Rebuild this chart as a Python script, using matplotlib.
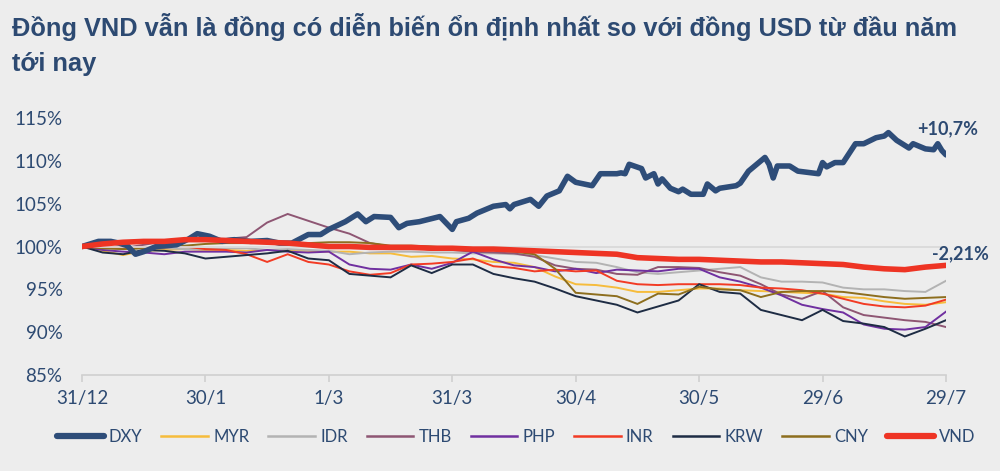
import matplotlib
matplotlib.use('Agg')
import matplotlib.pyplot as plt
from matplotlib.lines import Line2D

# ---------------- data ----------------
days = list(range(0, 211, 5))
tick_days = [0, 30, 60, 90, 120, 150, 180, 210]
tick_labels = ['31/12', '30/1', '1/3', '31/3', '30/4', '30/5', '29/6', '29/7']
y_ticks = [85, 90, 95, 100, 105, 110, 115]

dxy_days = [0, 4, 7, 9, 11, 13, 15, 18, 23, 26, 28, 31, 34, 37, 41, 45, 48, 51, 55, 58,
            60, 64, 67, 69, 71, 75, 77, 79, 82, 87, 90, 91, 94, 96, 100, 103, 104, 105,
            109, 111, 113, 116, 118, 120, 121, 124, 126, 130, 131, 132, 133, 136, 137,
            139, 140, 141, 143, 145, 146, 148, 151, 152, 154, 155, 159, 160, 162, 164,
            166, 167, 168, 169, 172, 174, 179, 180, 181, 183, 185, 188, 190, 193, 195,
            196, 198, 201, 202, 205, 207, 208, 209, 210]
dxy = [100.0, 100.6, 100.6, 100.4, 100.1, 99.1, 99.4, 100.0, 100.2, 100.9, 101.5, 101.2,
       100.6, 100.8, 100.6, 100.7, 100.4, 100.4, 101.4, 101.4, 102.0, 102.9, 103.8, 102.9,
       103.5, 103.4, 102.2, 102.7, 102.9, 103.5, 102.0, 102.9, 103.3, 103.9, 104.7, 104.9,
       104.4, 104.9, 105.5, 104.7, 105.9, 106.5, 108.2, 107.5, 107.4, 107.1, 108.5, 108.5,
       108.6, 108.5, 109.6, 109.1, 108.0, 108.5, 107.3, 107.9, 106.8, 106.4, 106.7, 106.1,
       106.1, 107.3, 106.5, 106.8, 107.1, 107.4, 108.8, 109.6, 110.4, 109.6, 108.0, 109.4,
       109.4, 108.8, 108.5, 109.8, 109.3, 109.8, 109.8, 112.0, 112.0, 112.7, 112.9, 113.3,
       112.4, 111.5, 112.0, 111.4, 111.3, 112.0, 111.2, 110.7]

myr = [100.0, 99.5, 99.0, 99.5, 99.6, 99.7, 99.6, 99.6, 99.5, 99.6, 99.6, 99.5, 99.4,
       99.4, 99.2, 99.2, 98.8, 98.9, 98.6, 98.5, 98.2, 98.1, 97.6, 96.5, 95.6, 95.5, 95.2,
       94.7, 94.7, 94.9, 95.1, 95.1, 94.9, 94.8, 94.7, 94.6, 94.5, 94.1, 94.0, 93.6, 93.3,
       93.2, 93.5]
idr = [100.0, 99.9, 99.7, 99.8, 99.8, 99.7, 99.7, 99.8, 99.8, 99.6, 99.7, 99.6, 99.5,
       99.1, 99.3, 99.4, 99.4, 99.3, 99.3, 99.2, 99.2, 99.1, 99.0, 98.6, 98.2, 98.1, 97.6,
       97.0, 96.8, 97.0, 97.2, 97.4, 97.6, 96.4, 95.9, 95.9, 95.8, 95.2, 95.0, 95.0, 94.8,
       94.7, 96.0]
thb = [100.0, 99.8, 99.8, 100.2, 100.6, 100.8, 100.9, 100.9, 101.1, 102.8, 103.8, 103.0,
       102.2, 101.5, 100.4, 100.0, 99.9, 99.6, 99.6, 99.4, 99.3, 99.2, 98.8, 97.8, 97.4,
       97.3, 96.8, 96.7, 97.6, 97.6, 97.5, 97.0, 96.6, 95.6, 94.4, 93.9, 94.8, 92.9, 92.0,
       91.7, 91.4, 91.2, 90.6]
php = [100.0, 99.6, 99.4, 99.3, 99.1, 99.4, 99.4, 99.4, 99.3, 99.6, 99.4, 99.3, 99.4,
       97.9, 97.4, 97.3, 97.9, 97.4, 98.1, 99.4, 98.5, 97.8, 97.6, 97.1, 97.4, 96.9, 97.3,
       97.2, 97.1, 97.4, 97.4, 96.4, 95.9, 95.2, 94.3, 93.2, 92.7, 92.3, 90.9, 90.4, 90.3,
       90.6, 92.4]
inr = [100.0, 100.0, 99.9, 99.9, 99.9, 100.0, 99.7, 99.6, 99.1, 98.2, 99.1, 98.2, 97.9,
       97.1, 96.7, 96.9, 97.9, 98.0, 98.2, 98.6, 97.7, 97.5, 97.1, 97.3, 97.1, 97.2, 96.0,
       95.6, 95.5, 95.6, 95.6, 95.6, 95.5, 95.2, 95.1, 94.9, 94.5, 93.9, 93.3, 93.0, 92.9,
       93.1, 93.8]
krw = [100.0, 99.3, 99.1, 99.6, 99.5, 99.2, 98.6, 98.8, 99.0, 99.2, 99.5, 98.6, 98.4,
       96.8, 96.6, 96.4, 97.8, 96.9, 97.9, 97.9, 96.8, 96.3, 95.9, 95.1, 94.2, 93.7, 93.2,
       92.3, 93.0, 93.7, 95.6, 94.7, 94.5, 92.6, 92.0, 91.4, 92.6, 91.3, 91.0, 90.6, 89.5,
       90.4, 91.4]
cny = [100.0, 99.8, 99.7, 99.8, 99.9, 100.1, 100.3, 100.4, 100.4, 100.4, 100.4, 100.4,
       100.5, 100.5, 100.4, 100.1, 100.1, 100.0, 99.8, 99.7, 99.6, 99.4, 99.1, 97.4, 94.6,
       94.4, 94.2, 93.3, 94.5, 94.4, 95.3, 95.0, 94.9, 94.1, 94.7, 94.8, 94.8, 94.7, 94.4,
       94.1, 93.9, 94.0, 94.1]
vnd = [100.0, 100.3, 100.5, 100.6, 100.6, 100.8, 100.8, 100.7, 100.6, 100.5, 100.4,
       100.2, 100.0, 100.0, 99.9, 99.9, 99.9, 99.8, 99.8, 99.7, 99.7, 99.6, 99.5, 99.4,
       99.3, 99.2, 99.1, 98.7, 98.6, 98.5, 98.5, 98.4, 98.3, 98.2, 98.2, 98.1, 98.0, 97.9,
       97.6, 97.4, 97.3, 97.6, 97.8]

title = ('Đồng VND vẫn là đồng có diễn biến ổn định nhất so với đồng USD từ đầu năm\n'
         'tới nay')
dxy_note = '+10,7%'
vnd_note = '-2,21%'

# ---------------- style ----------------
NAVY = '#2D4A72'
BG = '#EDEDED'
TICK_FONT = ['Lato', 'DejaVu Sans']
TITLE_FONT = ['Liberation Sans Narrow', 'Liberation Sans', 'DejaVu Sans']

fig = plt.figure(figsize=(10, 4.71), dpi=100, facecolor=BG)
ax = fig.add_axes([0.082, 0.2038, 0.864, 0.5456], facecolor=BG)

thin = [
    ('MYR', myr, '#F6BC3C'),
    ('IDR', idr, '#B3B3B3'),
    ('THB', thb, '#8E5673'),
    ('PHP', php, '#7030A0'),
    ('INR', inr, '#F23B24'),
    ('KRW', krw, '#1E2C44'),
    ('CNY', cny, '#8D6E1E'),
]
for name, vals, col in thin:
    ax.plot(days, vals, color=col, lw=1.4, zorder=2, solid_joinstyle='miter')

ax.axhline(100, color='#DADADA', lw=1.3, zorder=3)
ax.plot(dxy_days, dxy, color='#2E4D79', lw=4.0, zorder=4, solid_capstyle='round')
ax.plot(days, vnd, color='#EE3424', lw=4.0, zorder=5, solid_capstyle='round')

ax.set_xlim(0, 210)
ax.set_ylim(85, 115)
ax.set_yticks(y_ticks)
ax.set_yticklabels([f'{v}%' for v in y_ticks])
ax.set_xticks(tick_days)
ax.set_xticklabels(tick_labels)
for s in ['top', 'right', 'left']:
    ax.spines[s].set_visible(False)
ax.spines['bottom'].set_color('#D0D0D0')
ax.spines['bottom'].set_linewidth(1.2)
ax.tick_params(axis='y', length=0, pad=14, labelsize=13.5, labelcolor=NAVY)
ax.tick_params(axis='x', length=5, width=1.2, color='#D0D0D0', pad=6,
               labelsize=13.5, labelcolor=NAVY)
for lab in ax.get_xticklabels() + ax.get_yticklabels():
    lab.set_family(TICK_FONT)

ax.text(210.5, 113.8, dxy_note, color=NAVY, fontsize=13, fontweight='bold',
        ha='center', va='center', family=TICK_FONT, clip_on=False)
ax.text(213.5, 99.2, vnd_note, color=NAVY, fontsize=13, fontweight='bold',
        ha='center', va='center', family=TICK_FONT, clip_on=False)

fig.text(0.012, 0.972, title, color=NAVY, fontsize=18.3, fontweight='bold', ha='left',
         va='top', family=TITLE_FONT, linespacing=1.55)

handles = [Line2D([], [], color='#2E4D79', lw=4.5, solid_capstyle='round')]
labels = ['DXY']
for name, vals, col in thin:
    handles.append(Line2D([], [], color=col, lw=1.8))
    labels.append(name)
handles.append(Line2D([], [], color='#EE3424', lw=4.5, solid_capstyle='round'))
labels.append('VND')
fig.legend(handles, labels, ncol=9, loc='center', bbox_to_anchor=(0.516, 0.072),
           frameon=False, handlelength=2.8, handletextpad=0.3,
           columnspacing=1.15, labelcolor=NAVY, prop={'family': TICK_FONT, 'size': 12})

fig.savefig('out.png', dpi=100, facecolor=BG)
